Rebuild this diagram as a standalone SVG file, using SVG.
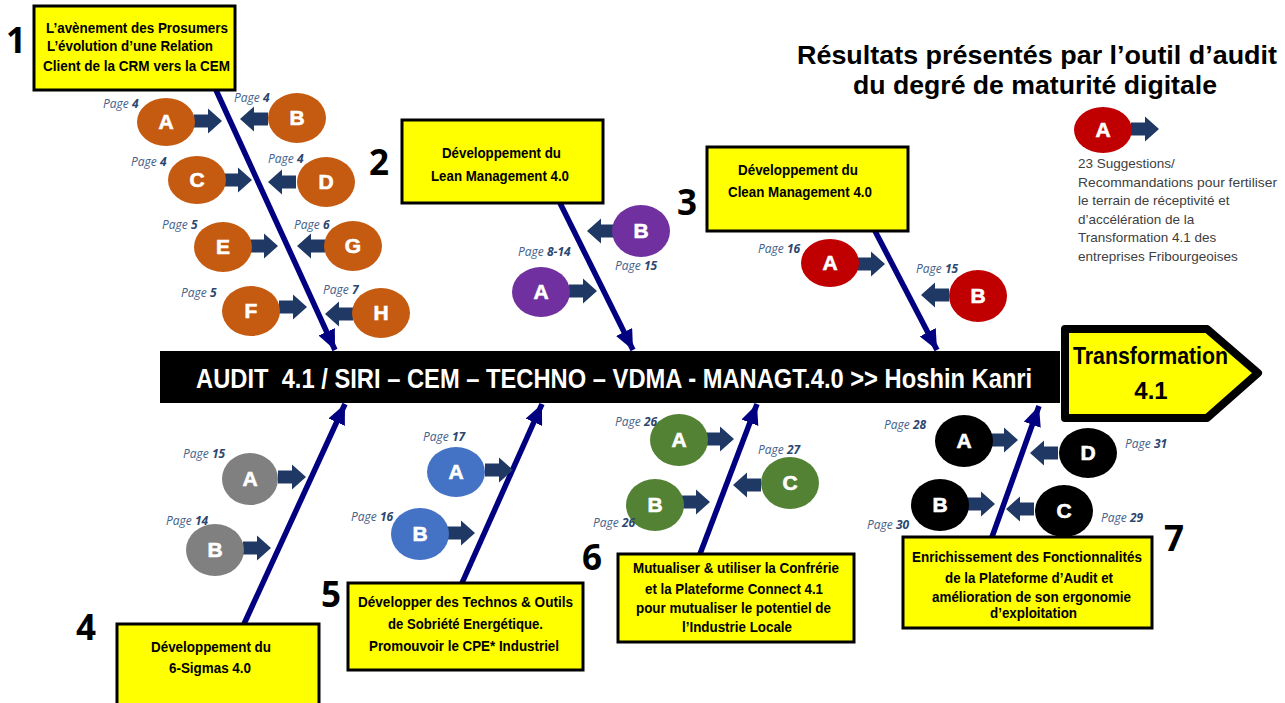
<svg xmlns="http://www.w3.org/2000/svg" xmlns:xlink="http://www.w3.org/1999/xlink" width="1285" height="703" viewBox="0 0 1285 703">
<style>
.box{fill:#FFFF00;stroke:#000;stroke-width:3}
.bt{font-family:"Liberation Sans Narrow","Liberation Sans",Arial,sans-serif;font-weight:bold;font-size:14px;fill:#000}
.num{font-family:"Open Sans","Liberation Sans",sans-serif;font-weight:bold;font-size:35px;fill:#000}
.lt{font-family:"Liberation Sans",Arial,sans-serif;font-weight:bold;font-size:21px;fill:#fff;text-anchor:middle;stroke:#fff;stroke-width:0.6}
.pg{font-family:"Open Sans","Liberation Sans",sans-serif;font-style:italic;font-size:12px;fill:#44618A}
.pg tspan{font-weight:bold;fill:#2B4670}
.spine{stroke:#000080;stroke-width:5.5;fill:none;marker-end:url(#hd)}
.ba{fill:#1F3864}
.or{fill:#C55A11}.pu{fill:#7030A0}.rd{fill:#C00000}.gy{fill:#808080}.bl{fill:#4472C4}.gr{fill:#548235}.bk{fill:#000}
.lg{font-family:"Liberation Sans",Arial,sans-serif;font-size:13.5px;fill:#404040}
.ttl{font-family:"Liberation Sans",Arial,sans-serif;font-weight:bold;font-size:26px;fill:#000;text-anchor:middle}
.tr{font-family:"Liberation Sans",Arial,sans-serif;font-weight:bold;font-size:24px;fill:#000}
</style>
<defs>
<marker id="hd" markerUnits="userSpaceOnUse" markerWidth="22" markerHeight="20" refX="20" refY="9" orient="auto">
<path d="M0,0 L20,9 L0,18 Z" fill="#000080"/>
</marker>
<path id="ba" d="M-28,-6.5 H-14 V-12.5 L0,0 L-14,12.5 V6.5 H-28 Z"/>
</defs>
<rect width="1285" height="703" fill="#fff"/>

<g id="connectors">
<line class="spine" x1="216" y1="90" x2="335" y2="350"/>
<line class="spine" x1="560" y1="203" x2="633" y2="350"/>
<line class="spine" x1="875" y1="231" x2="937" y2="350"/>
<line class="spine" x1="244" y1="624" x2="345" y2="404"/>
<line class="spine" x1="462" y1="583" x2="542" y2="404"/>
<line class="spine" x1="700" y1="554" x2="757" y2="404"/>
<line class="spine" x1="992" y1="537" x2="1039" y2="406"/>
</g>

<g id="block-arrows" class="ba">
<use href="#ba" transform="translate(222,121)"/>
<use href="#ba" transform="translate(240,119) scale(-1,1)"/>
<use href="#ba" transform="translate(252,180)"/>
<use href="#ba" transform="translate(268,182) scale(-1,1)"/>
<use href="#ba" transform="translate(278,246)"/>
<use href="#ba" transform="translate(297,246) scale(-1,1)"/>
<use href="#ba" transform="translate(307,307)"/>
<use href="#ba" transform="translate(325,314) scale(-1,1)"/>
<use href="#ba" transform="translate(587,231) scale(-1,1)"/>
<use href="#ba" transform="translate(597,291)"/>
<use href="#ba" transform="translate(885,264)"/>
<use href="#ba" transform="translate(921,295) scale(-1,1)"/>
<use href="#ba" transform="translate(306,477)"/>
<use href="#ba" transform="translate(271,548)"/>
<use href="#ba" transform="translate(513,470)"/>
<use href="#ba" transform="translate(475,533)"/>
<use href="#ba" transform="translate(734,439)"/>
<use href="#ba" transform="translate(710,502)"/>
<use href="#ba" transform="translate(733,485) scale(-1,1)"/>
<use href="#ba" transform="translate(1018,440)"/>
<use href="#ba" transform="translate(1030,453) scale(-1,1)"/>
<use href="#ba" transform="translate(995,504)"/>
<use href="#ba" transform="translate(1006,509) scale(-1,1)"/>
<use href="#ba" transform="translate(1159,129)"/>
</g>

<g id="spine-main">
<rect x="160" y="351" width="900" height="52" fill="#000"/>
<text transform="translate(196,388) scale(0.74,1)" x="0" y="0" xml:space="preserve" style="white-space:pre" textLength="1130" lengthAdjust="spacingAndGlyphs" font-family="'Liberation Sans',sans-serif" font-weight="bold" font-size="27" fill="#fff">AUDIT  4.1 / SIRI – CEM – TECHNO – VDMA - MANAGT.4.0 &gt;&gt; Hoshin Kanri</text>
</g>

<g id="transformation">
<path d="M1065,329 H1207 L1258,373 L1207,418 H1065 Z" fill="#FFFF00" stroke="#000" stroke-width="8" stroke-linejoin="round"/>
<text class="tr" x="1073" y="364" textLength="155" lengthAdjust="spacingAndGlyphs">Transformation</text>
<text class="tr" x="1151" y="399" text-anchor="middle">4.1</text>
</g>

<g id="title">
<text class="ttl" x="1037" y="64" textLength="480" lengthAdjust="spacingAndGlyphs">Résultats présentés par l’outil d’audit</text>
<text class="ttl" x="1035" y="94" textLength="364" lengthAdjust="spacingAndGlyphs">du degré de maturité digitale</text>
</g>

<g id="legend">
<ellipse class="rd" cx="1103" cy="130" rx="29" ry="23"/>
<text class="lt" x="1103" y="137">A</text>
<text class="lg" x="1078" y="168">23 Suggestions/</text>
<text class="lg" x="1078" y="186.6" textLength="199" lengthAdjust="spacingAndGlyphs">Recommandations pour fertiliser</text>
<text class="lg" x="1078" y="205.2">le terrain de réceptivité et</text>
<text class="lg" x="1078" y="223.8">d’accélération de la</text>
<text class="lg" x="1078" y="242.4">Transformation 4.1 des</text>
<text class="lg" x="1078" y="261">entreprises Fribourgeoises</text>
</g>

<g id="cause1">
<rect class="box" x="34" y="6" width="201" height="84"/>
<text class="bt" x="46" y="33" textLength="182" lengthAdjust="spacingAndGlyphs">L’avènement des Prosumers</text>
<text class="bt" x="47" y="51" textLength="166" lengthAdjust="spacingAndGlyphs">L’évolution d’une Relation</text>
<text class="bt" x="43" y="71" textLength="187" lengthAdjust="spacingAndGlyphs">Client de la CRM vers la CEM</text>
<text class="num" x="6" y="53">1</text>
</g>
<g id="c1A"><ellipse class="or" cx="166" cy="122" rx="29" ry="24"/><text class="lt" x="166" y="129">A</text><text class="pg" x="103" y="108">Page <tspan>4</tspan></text></g>
<g id="c1B"><ellipse class="or" cx="297" cy="118" rx="29" ry="25"/><text class="lt" x="297" y="125">B</text><text class="pg" x="234" y="102">Page <tspan>4</tspan></text></g>
<g id="c1C"><ellipse class="or" cx="197" cy="180" rx="29" ry="24"/><text class="lt" x="197" y="187">C</text><text class="pg" x="131" y="166">Page <tspan>4</tspan></text></g>
<g id="c1D"><ellipse class="or" cx="326" cy="182" rx="29" ry="25"/><text class="lt" x="326" y="189">D</text><text class="pg" x="268" y="163">Page <tspan>4</tspan></text></g>
<g id="c1E"><ellipse class="or" cx="223" cy="247" rx="29" ry="25"/><text class="lt" x="223" y="254">E</text><text class="pg" x="162" y="229">Page <tspan>5</tspan></text></g>
<g id="c1G"><ellipse class="or" cx="353" cy="246" rx="29" ry="25"/><text class="lt" x="353" y="253">G</text><text class="pg" x="294" y="229">Page <tspan>6</tspan></text></g>
<g id="c1F"><ellipse class="or" cx="251" cy="311" rx="29" ry="25"/><text class="lt" x="251" y="318">F</text><text class="pg" x="181" y="297">Page <tspan>5</tspan></text></g>
<g id="c1H"><ellipse class="or" cx="381" cy="313" rx="29" ry="25"/><text class="lt" x="381" y="320">H</text><text class="pg" x="323" y="294">Page <tspan>7</tspan></text></g>

<g id="cause2">
<rect class="box" x="402" y="120" width="201" height="83"/>
<text class="bt" x="442" y="158" textLength="119" lengthAdjust="spacingAndGlyphs">Développement du</text>
<text class="bt" x="431" y="181" textLength="138" lengthAdjust="spacingAndGlyphs">Lean Management 4.0</text>
<text class="num" x="369" y="175">2</text>
</g>
<g id="c2B"><ellipse class="pu" cx="641" cy="231" rx="29" ry="26"/><text class="lt" x="641" y="238">B</text><text class="pg" x="615" y="270">Page <tspan>15</tspan></text></g>
<g id="c2A"><ellipse class="pu" cx="541" cy="292" rx="29" ry="25"/><text class="lt" x="541" y="299">A</text><text class="pg" x="518" y="256">Page <tspan>8-14</tspan></text></g>

<g id="cause3">
<rect class="box" x="707" y="147" width="201" height="84"/>
<text class="bt" x="738" y="175" textLength="120" lengthAdjust="spacingAndGlyphs">Développement du</text>
<text class="bt" x="728" y="197" textLength="144" lengthAdjust="spacingAndGlyphs">Clean Management 4.0</text>
<text class="num" x="677" y="215">3</text>
</g>
<g id="c3A"><ellipse class="rd" cx="830" cy="263" rx="29" ry="24"/><text class="lt" x="830" y="270">A</text><text class="pg" x="758" y="253">Page <tspan>16</tspan></text></g>
<g id="c3B"><ellipse class="rd" cx="978" cy="296" rx="29" ry="26"/><text class="lt" x="978" y="303">B</text><text class="pg" x="916" y="273">Page <tspan>15</tspan></text></g>

<g id="cause4">
<rect class="box" x="117" y="624" width="202" height="96"/>
<text class="bt" x="151" y="652" textLength="120" lengthAdjust="spacingAndGlyphs">Développement du</text>
<text class="bt" x="169" y="673" textLength="82" lengthAdjust="spacingAndGlyphs">6-Sigmas 4.0</text>
<text class="num" x="76" y="640">4</text>
</g>
<g id="c4A"><ellipse class="gy" cx="250" cy="479" rx="28" ry="26"/><text class="lt" x="250" y="486">A</text><text class="pg" x="183" y="458">Page <tspan>15</tspan></text></g>
<g id="c4B"><ellipse class="gy" cx="215" cy="550" rx="29" ry="26"/><text class="lt" x="215" y="557">B</text><text class="pg" x="166" y="525">Page <tspan>14</tspan></text></g>

<g id="cause5">
<rect class="box" x="348" y="583" width="235" height="87"/>
<text class="bt" x="358" y="607" textLength="215" lengthAdjust="spacingAndGlyphs">Développer des Technos &amp; Outils</text>
<text class="bt" x="388" y="629" textLength="155" lengthAdjust="spacingAndGlyphs">de Sobriété Energétique.</text>
<text class="bt" x="369" y="651" textLength="190" lengthAdjust="spacingAndGlyphs">Promouvoir le CPE* Industriel</text>
<text class="num" x="321" y="607">5</text>
</g>
<g id="c5A"><ellipse class="bl" cx="456" cy="472" rx="29" ry="25"/><text class="lt" x="456" y="479">A</text><text class="pg" x="423" y="441">Page <tspan>17</tspan></text></g>
<g id="c5B"><ellipse class="bl" cx="420" cy="534" rx="29" ry="26"/><text class="lt" x="420" y="541">B</text><text class="pg" x="351" y="521">Page <tspan>16</tspan></text></g>

<g id="cause6">
<rect class="box" x="618" y="554" width="236" height="88"/>
<text class="bt" x="633" y="573" textLength="206" lengthAdjust="spacingAndGlyphs">Mutualiser &amp; utiliser la Confrérie</text>
<text class="bt" x="645" y="594" textLength="178" lengthAdjust="spacingAndGlyphs">et la Plateforme Connect 4.1</text>
<text class="bt" x="636" y="613" textLength="195" lengthAdjust="spacingAndGlyphs">pour mutualiser le potentiel de</text>
<text class="bt" x="682" y="632" textLength="110" lengthAdjust="spacingAndGlyphs">l’Industrie Locale</text>
<text class="num" x="582" y="570">6</text>
</g>
<g id="c6A"><ellipse class="gr" cx="679" cy="440" rx="29" ry="26"/><text class="lt" x="679" y="447">A</text><text class="pg" x="615" y="426">Page <tspan>26</tspan></text></g>
<g id="c6B"><ellipse class="gr" cx="655" cy="505" rx="29" ry="26"/><text class="lt" x="655" y="512">B</text><text class="pg" x="593" y="527">Page <tspan>26</tspan></text></g>
<g id="c6C"><ellipse class="gr" cx="790" cy="483" rx="29" ry="26"/><text class="lt" x="790" y="490">C</text><text class="pg" x="758" y="454">Page <tspan>27</tspan></text></g>

<g id="cause7">
<rect class="box" x="903" y="537" width="249" height="91"/>
<text class="bt" x="912" y="562" textLength="230" lengthAdjust="spacingAndGlyphs">Enrichissement des Fonctionnalités</text>
<text class="bt" x="945" y="583" textLength="168" lengthAdjust="spacingAndGlyphs">de la Plateforme d’Audit et</text>
<text class="bt" x="932" y="602" textLength="199" lengthAdjust="spacingAndGlyphs">amélioration de son ergonomie</text>
<text class="bt" x="990" y="618" textLength="87" lengthAdjust="spacingAndGlyphs">d’exploitation</text>
<text class="num" x="1164" y="551">7</text>
</g>
<g id="c7A"><ellipse class="bk" cx="964" cy="441" rx="29" ry="26"/><text class="lt" x="964" y="448">A</text><text class="pg" x="884" y="429">Page <tspan>28</tspan></text></g>
<g id="c7D"><ellipse class="bk" cx="1088" cy="453" rx="29" ry="25"/><text class="lt" x="1088" y="460">D</text><text class="pg" x="1125" y="448">Page <tspan>31</tspan></text></g>
<g id="c7B"><ellipse class="bk" cx="940" cy="505" rx="29" ry="26"/><text class="lt" x="940" y="512">B</text><text class="pg" x="867" y="529">Page <tspan>30</tspan></text></g>
<g id="c7C"><ellipse class="bk" cx="1064" cy="511" rx="29" ry="26"/><text class="lt" x="1064" y="518">C</text><text class="pg" x="1101" y="522">Page <tspan>29</tspan></text></g>
</svg>
